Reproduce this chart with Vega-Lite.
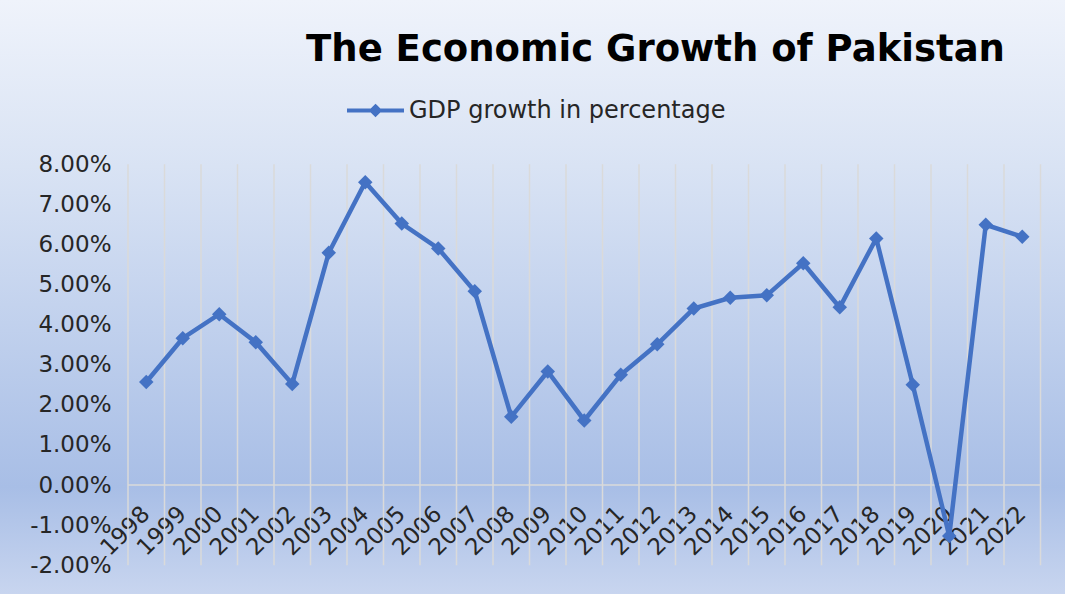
{
  "$schema": "https://vega.github.io/schema/vega-lite/v6.json",
  "width": 1065,
  "height": 594,
  "autosize": "none",
  "padding": 0,
  "background": "#dde5f4",
  "title": {
    "text": "The Economic Growth of Pakistan",
    "font": "DejaVu Sans",
    "fontSize": 37,
    "fontWeight": "bold",
    "color": "#000000",
    "anchor": "middle",
    "frame": "group",
    "dx": 123,
    "offset": -98,
    "baseline": "alphabetic"
  },
  "data": {
    "values": [
      {"year": "1998", "growth": 2.57},
      {"year": "1999", "growth": 3.66},
      {"year": "2000", "growth": 4.26},
      {"year": "2001", "growth": 3.56},
      {"year": "2002", "growth": 2.52},
      {"year": "2003", "growth": 5.79},
      {"year": "2004", "growth": 7.55},
      {"year": "2005", "growth": 6.52},
      {"year": "2006", "growth": 5.90},
      {"year": "2007", "growth": 4.83},
      {"year": "2008", "growth": 1.70},
      {"year": "2009", "growth": 2.83},
      {"year": "2010", "growth": 1.61},
      {"year": "2011", "growth": 2.75},
      {"year": "2012", "growth": 3.51},
      {"year": "2013", "growth": 4.40},
      {"year": "2014", "growth": 4.67},
      {"year": "2015", "growth": 4.73},
      {"year": "2016", "growth": 5.53},
      {"year": "2017", "growth": 4.43},
      {"year": "2018", "growth": 6.15},
      {"year": "2019", "growth": 2.50},
      {"year": "2020", "growth": -1.27},
      {"year": "2021", "growth": 6.49},
      {"year": "2022", "growth": 6.19}
    ]
  },
  "layer": [
    {
      "mark": {"type": "rule", "color": "#dadada", "strokeWidth": 1.5},
      "encoding": {
        "x": {"field": "year", "type": "ordinal", "bandPosition": 0},
        "y": {"datum": 8, "type": "quantitative"},
        "y2": {"datum": -2}
      }
    },
    {
      "transform": [{"filter": "datum.year == '2022'"}],
      "mark": {"type": "rule", "color": "#dadada", "strokeWidth": 1.5},
      "encoding": {
        "x": {"field": "year", "type": "ordinal", "bandPosition": 1},
        "y": {"datum": 8, "type": "quantitative"},
        "y2": {"datum": -2}
      }
    },
    {
      "mark": {"type": "tick", "color": "#dadada", "size": 36.6, "thickness": 1.5, "opacity": 1},
      "encoding": {
        "x": {"field": "year", "type": "ordinal"},
        "y": {"datum": 0, "type": "quantitative"}
      }
    },
    {
      "mark": {
        "type": "line",
        "strokeWidth": 4.5,
        "point": {"filled": true, "shape": "diamond", "size": 210}
      },
      "encoding": {
        "x": {
          "field": "year",
          "type": "ordinal",
          "title": null,
          "scale": {"paddingInner": 0, "paddingOuter": 0, "range": [128, 1040.5]},
          "axis": {
            "orient": "bottom",
            "offset": -84,
            "labelPadding": 0,
            "labelAngle": -45,
            "labelAlign": "right",
            "labelBaseline": "middle",
            "ticks": false,
            "domain": false,
            "grid": false
          }
        },
        "y": {
          "field": "growth",
          "type": "quantitative",
          "title": null,
          "scale": {"domain": [-2.718, 12.095], "nice": false, "zero": false},
          "axis": {
            "orient": "left",
            "offset": -128,
            "labelPadding": 17,
            "values": [-2, -1, 0, 1, 2, 3, 4, 5, 6, 7, 8],
            "labelExpr": "(datum.value < 0 ? '-' : '') + format(abs(datum.value), '.2f') + '%'",
            "ticks": false,
            "domain": false,
            "grid": false
          }
        },
        "color": {
          "datum": "GDP growth in percentage",
          "type": "nominal",
          "scale": {"range": ["#4472c4"]},
          "legend": {
            "title": null,
            "orient": "none",
            "legendX": 345,
            "legendY": 80,
            "padding": 0,
            "symbolType": "M-1,0H1M0,-0.14L0.14,0L0,0.14L-0.14,0Z",
            "symbolSize": 3249,
            "symbolStrokeWidth": 4,
            "labelOffset": 3,
            "labelLimit": 0,
            "labelFont": "DejaVu Sans",
            "labelFontSize": 24,
            "labelColor": "#262626",
            "encode": {
              "symbols": {
                "update": {
                  "fill": {"value": "#4472c4"},
                  "stroke": {"value": "#4472c4"},
                  "strokeWidth": {"value": 4},
                  "opacity": {"value": 1}
                }
              }
            }
          }
        }
      }
    }
  ],
  "config": {
    "view": {
      "stroke": null,
      "fill": {
        "gradient": "linear",
        "x1": 0, "y1": 0, "x2": 0, "y2": 1,
        "stops": [
          {"offset": 0, "color": "#eff3fb"},
          {"offset": 0.28, "color": "#d9e3f4"},
          {"offset": 0.82, "color": "#a8bee6"},
          {"offset": 1, "color": "#c8d5ef"}
        ]
      }
    },
    "axis": {
      "labelFont": "DejaVu Sans",
      "labelFontSize": 23,
      "labelColor": "#262626",
      "labelOverlap": false,
      "labelBound": false,
      "labelFlush": false
    }
  }
}
